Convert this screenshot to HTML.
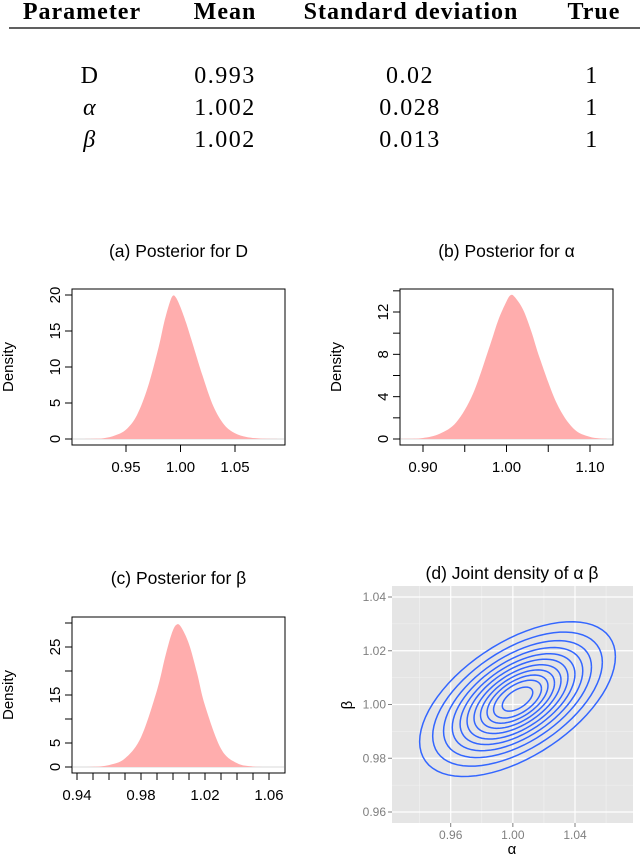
<!DOCTYPE html>
<html><head><meta charset="utf-8"><style>
body{margin:0;background:#fff;}
svg{display:block;}
</style></head><body>
<svg id="root" width="640" height="854" viewBox="0 0 640 854" xmlns="http://www.w3.org/2000/svg">
<g font-family="'Liberation Serif', serif" font-size="24" fill="#000">
<text x="82" y="19" text-anchor="middle" font-weight="bold" letter-spacing="1">Parameter</text>
<text x="225" y="19" text-anchor="middle" font-weight="bold" letter-spacing="1">Mean</text>
<text x="411" y="19" text-anchor="middle" font-weight="bold" letter-spacing="1">Standard deviation</text>
<text x="594" y="19" text-anchor="middle" font-weight="bold" letter-spacing="1">True</text>
<line x1="9" y1="28" x2="640" y2="28" stroke="#000" stroke-width="1.2"/>
<g letter-spacing="1.5">
<text x="90" y="83" text-anchor="middle">D</text>
<text x="225" y="83" text-anchor="middle">0.993</text>
<text x="410" y="83" text-anchor="middle">0.02</text>
<text x="592" y="83" text-anchor="middle">1</text>
<text x="90" y="115" text-anchor="middle" font-style="italic">α</text>
<text x="225" y="115" text-anchor="middle">1.002</text>
<text x="410" y="115" text-anchor="middle">0.028</text>
<text x="592" y="115" text-anchor="middle">1</text>
<text x="90" y="147" text-anchor="middle" font-style="italic">β</text>
<text x="225" y="147" text-anchor="middle">1.002</text>
<text x="410" y="147" text-anchor="middle">0.013</text>
<text x="592" y="147" text-anchor="middle">1</text>
</g>
</g>
</svg>
<script>
// Panel (a) D
const dX = [0.91,0.92,0.93,0.94,0.95,0.96,0.97,0.98,0.985,0.99,0.993,0.996,1.00,1.005,1.01,1.02,1.03,1.04,1.05,1.06,1.07,1.08,1.09];
const dY = [0,0.03,0.12,0.5,1.3,3.3,7.2,12.8,16.2,18.9,19.9,19.6,18.3,16.2,13.8,8.9,4.6,2.0,0.8,0.3,0.1,0.03,0];
const dXTicks = [0.95,1.00,1.05];
const dYTicks = [0,5,10,15,20];
// Panel (b) alpha
const aX = [0.87,0.88,0.90,0.92,0.94,0.96,0.98,0.99,1.00,1.005,1.01,1.02,1.03,1.04,1.06,1.08,1.10,1.12];
const aY = [0,0.02,0.1,0.5,1.6,4.3,8.8,11.2,13.0,13.6,13.4,12.2,10.1,7.6,3.4,1.0,0.2,0.02];
const aXTicks = [0.90,0.95,1.00,1.05,1.10];
const aXLabels = ["0.90","","1.00","","1.10"];
const aYTicks = [0,2,4,6,8,10,12,14];
const aYLabels = ["0","","4","","8","","12",""];
// Panel (c) beta
const bX = [0.94,0.95,0.96,0.97,0.98,0.99,0.995,0.999,1.002,1.005,1.01,1.015,1.02,1.03,1.04,1.05,1.06];
const bY = [0,0.05,0.4,1.8,6.2,16.0,22.8,27.6,29.6,29.2,25.6,19.6,12.8,3.8,0.8,0.1,0];
const bXTicks = [0.94,0.95,0.96,0.97,0.98,0.99,1.00,1.01,1.02,1.03,1.04,1.05,1.06];
const bXLabels = ["0.94","","","","0.98","","","","1.02","","","","1.06"];
const bYTicks = [0,5,10,15,20,25,30];
const bYLabels = ["0","5","","15","","25",""];
// Panel (d) joint density contours
const jointMean = [1.003, 1.002];
const jointSd = [0.028, 0.0128];
const jointRho = 0.55;
const contourRadii = [2.25,1.95,1.7,1.5,1.32,1.16,1.0,0.85,0.7,0.55,0.35];
const jXTicks = [0.96,1.00,1.04];
const jYTicks = [0.96,0.98,1.00,1.02,1.04];
const jXMinor = [0.94,0.98,1.02,1.06];
const jYMinor = [0.97,0.99,1.01,1.03];

const NS = "http://www.w3.org/2000/svg";
const root = document.getElementById('root');
function mk(tag, attrs, parent, text){
  const e = document.createElementNS(NS, tag);
  for (const k in attrs) e.setAttribute(k, attrs[k]);
  if (text !== undefined) e.textContent = text;
  (parent||root).appendChild(e);
  return e;
}
function lin(d0,d1,p0,p1){return v => p0 + (v-d0)*(p1-p0)/(d1-d0);}
function smoothPath(pts){
  let d = "M"+pts[0][0]+","+pts[0][1];
  for (let i=0;i<pts.length-1;i++){
    const p0=pts[Math.max(i-1,0)],p1=pts[i],p2=pts[i+1],p3=pts[Math.min(i+2,pts.length-1)];
    const c1=[p1[0]+(p2[0]-p0[0])/6,p1[1]+(p2[1]-p0[1])/6];
    const c2=[p2[0]-(p3[0]-p1[0])/6,p2[1]-(p3[1]-p1[1])/6];
    d+=" C"+c1[0].toFixed(2)+","+c1[1].toFixed(2)+" "+c2[0].toFixed(2)+","+c2[1].toFixed(2)+" "+p2[0].toFixed(2)+","+p2[1].toFixed(2);
  }
  return d;
}

function densityPanel(o){
  const g = mk('g',{'font-family':"'Liberation Sans', sans-serif",'font-size':'15'});
  
  
  const sx = lin(o.xd[0],o.xd[1],o.xp[0],o.xp[1]);
  const sy = lin(0,o.yd1,o.y0,o.y1);
  const pts = o.xs.map((x,i)=>[sx(x),sy(o.ys[i])]);
  let d = smoothPath(pts) + " L"+pts[pts.length-1][0]+","+sy(0)+" L"+pts[0][0]+","+sy(0)+" Z";
  mk('line',{x1:o.box[0]+1,x2:o.box[2]-1,y1:sy(0),y2:sy(0),stroke:'#d9d9d9','stroke-width':1},g);
  const area = mk('path',{d:d,fill:'#ffadad',stroke:'none'},g);
  
  
  const box = mk('rect',{x:o.box[0],y:o.box[1],width:o.box[2]-o.box[0],height:o.box[3]-o.box[1],fill:'none',stroke:'#000','stroke-width':1},g);
  
  
  const bx=o.box[0], by=o.box[3];
  o.xt.forEach((t,i)=>{
    mk('line',{x1:sx(t),x2:sx(t),y1:by,y2:by+7,stroke:'#000'},g);
    const lbl = o.xl ? o.xl[i] : t.toFixed(2);
    if (lbl){
      const tx = mk('text',{x:sx(t),y:by+27,'text-anchor':'middle'},g,lbl);
      
      
    }
  });
  o.yt.forEach((t,i)=>{
    mk('line',{x1:bx,x2:bx-7,y1:sy(t),y2:sy(t),stroke:'#000'},g);
    const lbl = o.yl ? o.yl[i] : String(t);
    if (lbl){
      const tx = mk('text',{x:bx-12,y:sy(t),'text-anchor':'middle',transform:'rotate(-90 '+(bx-12)+' '+sy(t)+')'},g,lbl);
      
      
    }
  });
  const yl = mk('text',{x:o.ylx,y:(o.box[1]+o.box[3])/2,'text-anchor':'middle',transform:'rotate(-90 '+o.ylx+' '+(o.box[1]+o.box[3])/2+')'},g,'Density');
  
  
  const ti = mk('text',{x:(o.box[0]+o.box[2])/2,y:o.ty,'text-anchor':'middle','font-size':'17.5'},g,o.title);
  
  
}

densityPanel({name:'panel-a-posterior-d',xs:dX,ys:dY,xd:[0.95,1.05],xp:[126,235],yd1:20,y0:439,y1:295,
  box:[72,289,285,445],xt:dXTicks,yt:dYTicks,ylx:13,ty:257,title:'(a) Posterior for D'});
densityPanel({name:'panel-b-posterior-alpha',xs:aX,ys:aY,xd:[0.90,1.10],xp:[423,590],yd1:12,y0:439,y1:312,
  box:[400,289,613,445],xt:aXTicks,xl:aXLabels,yt:aYTicks,yl:aYLabels,ylx:341,ty:257,title:'(b) Posterior for α'});
densityPanel({name:'panel-c-posterior-beta',xs:bX,ys:bY,xd:[0.94,1.06],xp:[77,269],yd1:25,y0:767,y1:647,
  box:[72,617,285,773],xt:bXTicks,xl:bXLabels,yt:bYTicks,yl:bYLabels,ylx:13,ty:584,title:'(c) Posterior for β'});

// Panel d
(function(){
  const g = mk('g',{'font-family':"'Liberation Sans', sans-serif",'font-size':'12'});
  
  
  const L=392,R=633,T=586,B=823;
  const sx = lin(0.96,1.04,450.7,575);
  const sy = lin(0.96,1.04,812,597);
  const bg = mk('rect',{x:L,y:T,width:R-L,height:B-T,fill:'#e5e5e5'},g);
  
  
  jXMinor.forEach(v=>mk('line',{x1:sx(v),x2:sx(v),y1:T,y2:B,stroke:'#f2f2f2','stroke-width':0.6},g));
  jYMinor.forEach(v=>mk('line',{x1:L,x2:R,y1:sy(v),y2:sy(v),stroke:'#f2f2f2','stroke-width':0.6},g));
  jXTicks.forEach(v=>{
    mk('line',{x1:sx(v),x2:sx(v),y1:T,y2:B,stroke:'#fff','stroke-width':1.2},g);
    mk('line',{x1:sx(v),x2:sx(v),y1:B,y2:B+4,stroke:'#7f7f7f'},g);
    const t = mk('text',{x:sx(v),y:B+16,'text-anchor':'middle',fill:'#7f7f7f'},g,v.toFixed(2));
    
    
  });
  jYTicks.forEach(v=>{
    mk('line',{x1:L,x2:R,y1:sy(v),y2:sy(v),stroke:'#fff','stroke-width':1.2},g);
    mk('line',{x1:L-4,x2:L,y1:sy(v),y2:sy(v),stroke:'#7f7f7f'},g);
    const t = mk('text',{x:L-6,y:sy(v)+4,'text-anchor':'end',fill:'#7f7f7f'},g,v.toFixed(2));
    
    
  });
  const c = Math.sqrt(1-jointRho*jointRho);
  contourRadii.forEach(r=>{
    const pts=[];
    for(let k=0;k<=72;k++){
      const t=k/72*2*Math.PI;
      const x=jointMean[0]+r*jointSd[0]*Math.cos(t);
      const y=jointMean[1]+r*jointSd[1]*(jointRho*Math.cos(t)+c*Math.sin(t));
      pts.push(sx(x).toFixed(2)+","+sy(y).toFixed(2));
    }
    const p = mk('polyline',{points:pts.join(' '),fill:'none',stroke:'#3366ff','stroke-width':1.5},g);
    
    
  });
  const ti = mk('text',{x:512,y:579,'text-anchor':'middle','font-size':'17.5'},g,'(d) Joint density of α β');
  
  
  const xl = mk('text',{x:512,y:854,'text-anchor':'middle','font-size':'15'},g,'α');
  
  
  const yl = mk('text',{x:352,y:705,'text-anchor':'middle','font-size':'15',transform:'rotate(-90 352 705)'},g,'β');
  
  
})();
</script>
</body></html>
